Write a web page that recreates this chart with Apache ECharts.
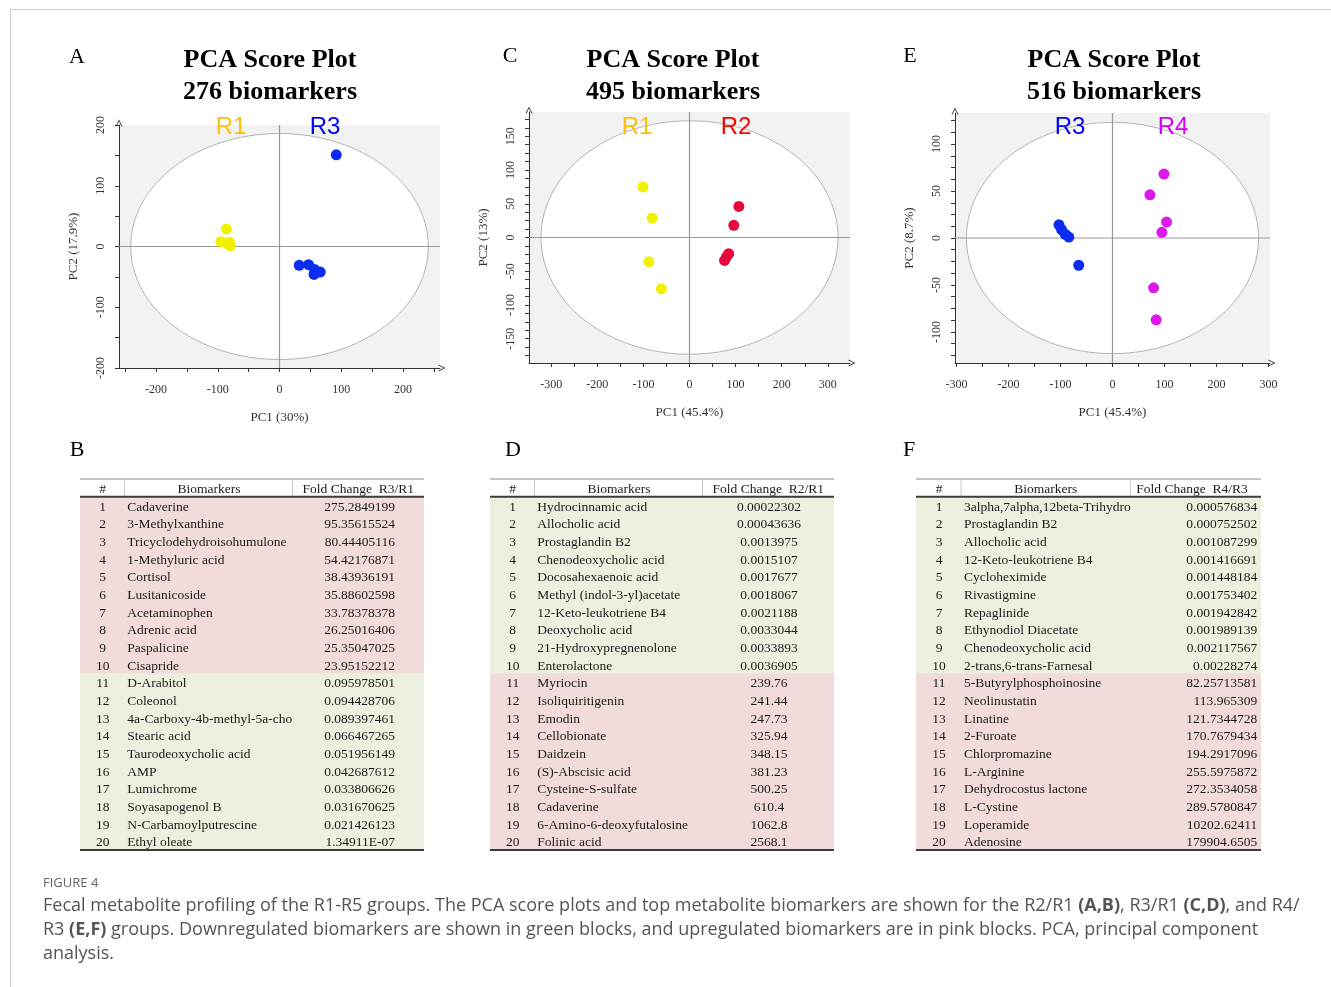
<!DOCTYPE html>
<html><head><meta charset="utf-8">
<script src="https://cdn.jsdelivr.net/npm/echarts@6/dist/echarts.min.js"></script>
<style>html,body{margin:0;padding:0;background:#fff}#c{width:1331px;height:987px}</style>
</head><body><div id="c"></div>
<script>
// ---------------- DATA ----------------
// Panel A (R3 vs R1)
const A_R1 = [[-86,29],[-95,8],[-81,7],[-80,1],[-84,4]];
const A_R3 = [[92,151],[32,-31],[47,-30],[57,-38],[56,-46],[66,-42]];
// Panel C (R2 vs R1)
const C_R1 = [[-101,75],[-81,29],[-88,-36],[-61,-76]];
const C_R2 = [[107,46],[96,18],[85,-24],[80,-29],[76,-34]];
// Panel E (R4 vs R3)
const E_R3 = [[-103,14],[-98,9],[-91,4],[-84,1],[-65,-29]];
const E_R4 = [[99,68],[72,46],[104,17],[95,6],[79,-53],[84,-87]];

// tick labels
const A_xTicks = [-200,-100,0,100,200];
const A_yTicks = [-200,-100,0,100,200];
const C_xTicks = [-300,-200,-100,0,100,200,300];
const C_yTicks = [-150,-100,-50,0,50,100,150];
const E_xTicks = [-300,-200,-100,0,100,200,300];
const E_yTicks = [-100,-50,0,50,100];

// Hotelling ellipse semi-axes (data units)
const A_ellipse = [241,186];
const C_ellipse = [322,173];
const E_ellipse = [281,123];

// Tables
const B_names = ['Cadaverine','3-Methylxanthine','Tricyclodehydroisohumulone','1-Methyluric acid','Cortisol','Lusitanicoside','Acetaminophen','Adrenic acid','Paspalicine','Cisapride','D-Arabitol','Coleonol','4a-Carboxy-4b-methyl-5a-cho','Stearic acid','Taurodeoxycholic acid','AMP','Lumichrome','Soyasapogenol B','N-Carbamoylputrescine','Ethyl oleate'];
const B_values = ['275.2849199','95.35615524','80.44405116','54.42176871','38.43936191','35.88602598','33.78378378','26.25016406','25.35047025','23.95152212','0.095978501','0.094428706','0.089397461','0.066467265','0.051956149','0.042687612','0.033806626','0.031670625','0.021426123','1.34911E-07'];
const D_names = ['Hydrocinnamic acid','Allocholic acid','Prostaglandin B2','Chenodeoxycholic acid','Docosahexaenoic acid','Methyl (indol-3-yl)acetate','12-Keto-leukotriene B4','Deoxycholic acid','21-Hydroxypregnenolone','Enterolactone','Myriocin','Isoliquiritigenin','Emodin','Cellobionate','Daidzein','(S)-Abscisic acid','Cysteine-S-sulfate','Cadaverine','6-Amino-6-deoxyfutalosine','Folinic acid'];
const D_values = ['0.00022302','0.00043636','0.0013975','0.0015107','0.0017677','0.0018067','0.0021188','0.0033044','0.0033893','0.0036905','239.76','241.44','247.73','325.94','348.15','381.23','500.25','610.4','1062.8','2568.1'];
const F_names = ['3alpha,7alpha,12beta-Trihydro','Prostaglandin B2','Allocholic acid','12-Keto-leukotriene B4','Cycloheximide','Rivastigmine','Repaglinide','Ethynodiol Diacetate','Chenodeoxycholic acid','2-trans,6-trans-Farnesal','5-Butyrylphosphoinosine','Neolinustatin','Linatine','2-Furoate','Chlorpromazine','L-Arginine','Dehydrocostus lactone','L-Cystine','Loperamide','Adenosine'];
const F_values = ['0.000576834','0.000752502','0.001087299','0.001416691','0.001448184','0.001753402','0.001942842','0.001989139','0.002117567','0.00228274','82.25713581','113.965309','121.7344728','170.7679434','194.2917096','255.5975872','272.3534058','289.5780847','10202.62411','179904.6505'];
const B_header = ['#','Biomarkers','Fold Change  R3/R1'];
const D_header = ['#','Biomarkers','Fold Change  R2/R1'];
const F_header = ['#','Biomarkers','Fold Change  R4/R3'];

// ---------------- STYLE / LAYOUT ----------------
const SERIF = "'Liberation Serif','Times New Roman',serif";
const SANS = "'Liberation Sans',Arial,sans-serif";
const YEL = '#f2f200', BLUE = '#0a2df0', RED = '#e8073c', MAG = '#dd18ea';
const PINK = '#f2dcdb', GREEN = '#ebf1de';

function steps(a, b, s) { const r = []; for (let v = a; v <= b + 1e-9; v += s) r.push(v); return r; }
const chevron = 'path://M0,10 L5,0 L10,10 L8.6,10 L5,2.6 L1.4,10 Z';

const panels = [
  {grid:{left:119, top:125, width:321, height:243}, x:[-260,260], y:[-200,200],
   xl:A_xTicks, yl:A_yTicks, xm:steps(-250,250,50), ym:steps(-200,200,50), ell:A_ellipse,
   xname:'PC1 (30%)', yname:'PC2 (17.9%)', s:[[A_R1,YEL],[A_R3,BLUE]]},
  {grid:{left:529, top:112, width:321, height:251}, x:[-348,348], y:[-186,186],
   xl:C_xTicks, yl:C_yTicks, xm:steps(-300,300,50), ym:steps(-175,175,12.5), ell:C_ellipse,
   xname:'PC1 (45.4%)', yname:'PC2 (13%)', s:[[C_R1,YEL],[C_R2,RED]]},
  {grid:{left:955, top:113, width:315, height:250}, x:[-303,303], y:[-133,133],
   xl:E_xTicks, yl:E_yTicks, xm:steps(-300,300,50), ym:steps(-125,125,12.5), ell:E_ellipse,
   xname:'PC1 (45.4%)', yname:'PC2 (8.7%)', s:[[E_R3,BLUE],[E_R4,MAG]]}
];

const grid = [], xAxis = [], yAxis = [], series = [];
panels.forEach((p, gi) => {
  grid.push(Object.assign({show:true, backgroundColor:'#f2f2f2', borderWidth:0, containLabel:false, outerBoundsMode:'none'}, p.grid));
  const axisLine = {show:true, onZero:false, symbol:['none', chevron], symbolSize:[8,7], symbolOffset:[0,2],
                    lineStyle:{color:'#333', width:1}};
  xAxis.push({gridIndex:gi, type:'value', min:p.x[0], max:p.x[1], axisLine,
    axisTick:{show:true, length:4, customValues:p.xm, lineStyle:{color:'#333'}},
    axisLabel:{customValues:p.xl, margin:16, fontFamily:SERIF, fontSize:12, color:'#333'},
    splitLine:{show:false}, name:p.xname, nameLocation:'middle', nameGap:43,
    nameTextStyle:{fontFamily:SERIF, fontSize:13, color:'#333'}});
  yAxis.push({gridIndex:gi, type:'value', min:p.y[0], max:p.y[1], axisLine,
    axisTick:{show:true, length:4, customValues:p.ym, lineStyle:{color:'#333'}},
    axisLabel:{customValues:p.yl, rotate:90, margin:12, fontFamily:SERIF, fontSize:12, color:'#333'},
    splitLine:{show:false}, name:p.yname, nameLocation:'middle', nameGap:39,
    nameTextStyle:{fontFamily:SERIF, fontSize:13, color:'#333'}});
  series.push({type:'custom', xAxisIndex:gi, yAxisIndex:gi, data:[[0,0]], silent:true, z:1, clip:false,
    renderItem:(params, api) => {
      const c = api.coord([0,0]);
      const s = api.size(p.ell);
      const xl = api.coord([p.x[0],0]), xr = api.coord([p.x[1],0]);
      const yt = api.coord([0,p.y[1]]), yb = api.coord([0,p.y[0]]);
      return {type:'group', children:[
        {type:'ellipse', shape:{cx:c[0], cy:c[1], rx:s[0], ry:s[1]}, style:{fill:'#ffffff', stroke:'#b4b4b4', lineWidth:1}},
        {type:'line', shape:{x1:xl[0], y1:xl[1], x2:xr[0], y2:xr[1]}, style:{stroke:'#999', lineWidth:1.2}},
        {type:'line', shape:{x1:yt[0], y1:yt[1], x2:yb[0], y2:yb[1]}, style:{stroke:'#999', lineWidth:1.2}}
      ]};
    }});
  p.s.forEach(([d, col]) => series.push({type:'scatter', xAxisIndex:gi, yAxisIndex:gi, data:d, z:3,
    symbolSize:11, itemStyle:{color:col, opacity:1}, silent:true}));
});

// ---------------- TABLES ----------------
const tables = [
  {grid:{left:80, top:479, width:344, height:371}, names:B_names, values:B_values, header:B_header,
   col:[0.129,0.618], num:0.066, name:0.1375, hb:0.375, hv:0.809, val:0.916, valAlign:'right'},
  {grid:{left:490, top:479, width:344, height:371}, names:D_names, values:D_values, header:D_header,
   col:[0.129,0.618], num:0.066, name:0.1375, hb:0.375, hv:0.809, val:0.811, valAlign:'center'},
  {grid:{left:916, top:479, width:345, height:371}, names:F_names, values:F_values, header:F_header,
   col:[0.1306,0.621], num:0.0667, name:0.139, hb:0.376, hv:0.80, val:0.989, valAlign:'right'}
];
const rowKeys = ['#'].concat(B_names.map((_, i) => String(i + 1)));
const TFONT = {fontFamily:SERIF, fontSize:13.5, fill:'#1a1a1a'};

tables.forEach((t, ti) => {
  const gi = 3 + ti;
  grid.push(Object.assign({show:false, containLabel:false, outerBoundsMode:'none'}, t.grid));
  xAxis.push({gridIndex:gi, type:'value', min:0, max:1, show:false});
  yAxis.push({gridIndex:gi, type:'category', data:rowKeys, inverse:true, show:false});
  series.push({type:'custom', xAxisIndex:gi, yAxisIndex:gi, silent:true, clip:false,
    data:rowKeys.map((k, i) => [0, i]),
    renderItem:(params, api) => {
      const idx = api.value(1);
      const L = api.coord([0, idx]), R = api.coord([1, idx]);
      const h = api.size([0, 1])[1];
      const x0 = L[0], W = R[0] - L[0], cy = L[1], y0 = cy - h / 2;
      const X = f => x0 + f * W;
      const txt = (s, x, align, extra) => ({type:'text', z2:5,
        style:Object.assign({text:s, x:x, y:cy + 1.5, align:align, verticalAlign:'middle',
          textAlign:align, textVerticalAlign:'middle'}, TFONT, extra || {})});
      const ch = [];
      if (idx === 0) {
        ch.push({type:'line', z2:10, shape:{x1:x0, y1:y0, x2:x0 + W, y2:y0}, style:{stroke:'#8a8a8a', lineWidth:1}});
        t.col.forEach(f => ch.push({type:'line', z2:10, shape:{x1:X(f), y1:y0, x2:X(f), y2:y0 + h}, style:{stroke:'#c8c8c8', lineWidth:1}}));
        ch.push({type:'line', z2:10, shape:{x1:x0, y1:y0 + h, x2:x0 + W, y2:y0 + h}, style:{stroke:'#3c3c3c', lineWidth:2}});
        ch.push(txt(t.header[0], X(t.num), 'center'));
        ch.push(txt(t.header[1], X(t.hb), 'center'));
        ch.push(txt(t.header[2], X(t.hv), 'center'));
      } else {
        const i = idx - 1;
        const up = parseFloat(t.values[i]) > 1;
        ch.push({type:'rect', z2:1, shape:{x:x0, y:y0, width:W, height:h + 0.6}, style:{fill:up ? PINK : GREEN}});
        ch.push(txt(String(idx), X(t.num), 'center'));
        ch.push(txt(t.names[i], X(t.name), 'left', {width:X(t.col[1]) - X(t.name) + 4, overflow:'truncate', ellipsis:''}));
        ch.push(txt(t.values[i], X(t.val), t.valAlign));
        if (idx === rowKeys.length - 1) {
          ch.push({type:'line', z2:10, shape:{x1:x0, y1:y0 + h, x2:x0 + W, y2:y0 + h}, style:{stroke:'#3c3c3c', lineWidth:2}});
        }
      }
      return {type:'group', children:ch};
    }});
});

// ---------------- TEXT ANNOTATIONS ----------------
const g = [];
function T(text, x, y, font, fill, align, extra) {
  g.push({type:'text', x:x, y:y, z:100, silent:true, style:Object.assign({text:text, font:font, fill:fill,
    align:align || 'center', verticalAlign:'middle', textAlign:align || 'center', textVerticalAlign:'middle'}, extra || {})});
}
// frame
g.push({type:'line', z:100, shape:{x1:10, y1:9.5, x2:1331, y2:9.5}, style:{stroke:'#cfcfcf', lineWidth:1}, silent:true});
g.push({type:'line', z:100, shape:{x1:10.5, y1:9, x2:10.5, y2:987}, style:{stroke:'#cfcfcf', lineWidth:1}, silent:true});

const TITLE_FONT = "bold 26px " + SERIF;
const titles = [['PCA Score Plot','276 biomarkers',270],['PCA Score Plot','495 biomarkers',673],['PCA Score Plot','516 biomarkers',1114]];
titles.forEach(([a, b, x]) => { T(a, x, 60, TITLE_FONT, '#000'); T(b, x, 92, TITLE_FONT, '#000'); });
const LET = "22px " + SERIF;
[['A',77,57],['C',510,56],['E',910,56],['B',77,450],['D',513,450],['F',909,450]].forEach(([s,x,y]) => T(s, x, y, LET, '#000'));
const RF = "24px " + SANS;
[['R1',231,127,'#ffc000'],['R3',325,127,'#0000ff'],['R1',637,127,'#ffc000'],['R2',736,127,'#ff0000'],['R3',1070,127,'#0000ff'],['R4',1173,127,'#d400f5']]
  .forEach(([s,x,y,c]) => T(s, x, y, RF, c));

const CFAM = "'Open Sans', 'Noto Sans', sans-serif";
const CAP = "18px " + CFAM;
T('FIGURE 4', 43, 883, "13px " + CFAM, '#666', 'left');
const rich = {b:{fontFamily:CFAM, fontSize:18, fontWeight:'bold', fill:'#555', color:'#555'}};
T('Fecal metabolite profiling of the R1-R5 groups. The PCA score plots and top metabolite biomarkers are shown for the R2/R1 {b|(A,B)}, R3/R1 {b|(C,D)}, and R4/', 43, 906, CAP, '#555', 'left', {rich:rich});
T('R3 {b|(E,F)} groups. Downregulated biomarkers are shown in green blocks, and upregulated biomarkers are in pink blocks. PCA, principal component', 43, 930, CAP, '#555', 'left', {rich:rich});
T('analysis.', 43, 954, CAP, '#555', 'left');

const chart = echarts.init(document.getElementById('c'), null, {renderer:'canvas'});
chart.setOption({animation:false, backgroundColor:'#fff', grid, xAxis, yAxis, series, graphic:{elements:g}});
</script>
</body></html>
